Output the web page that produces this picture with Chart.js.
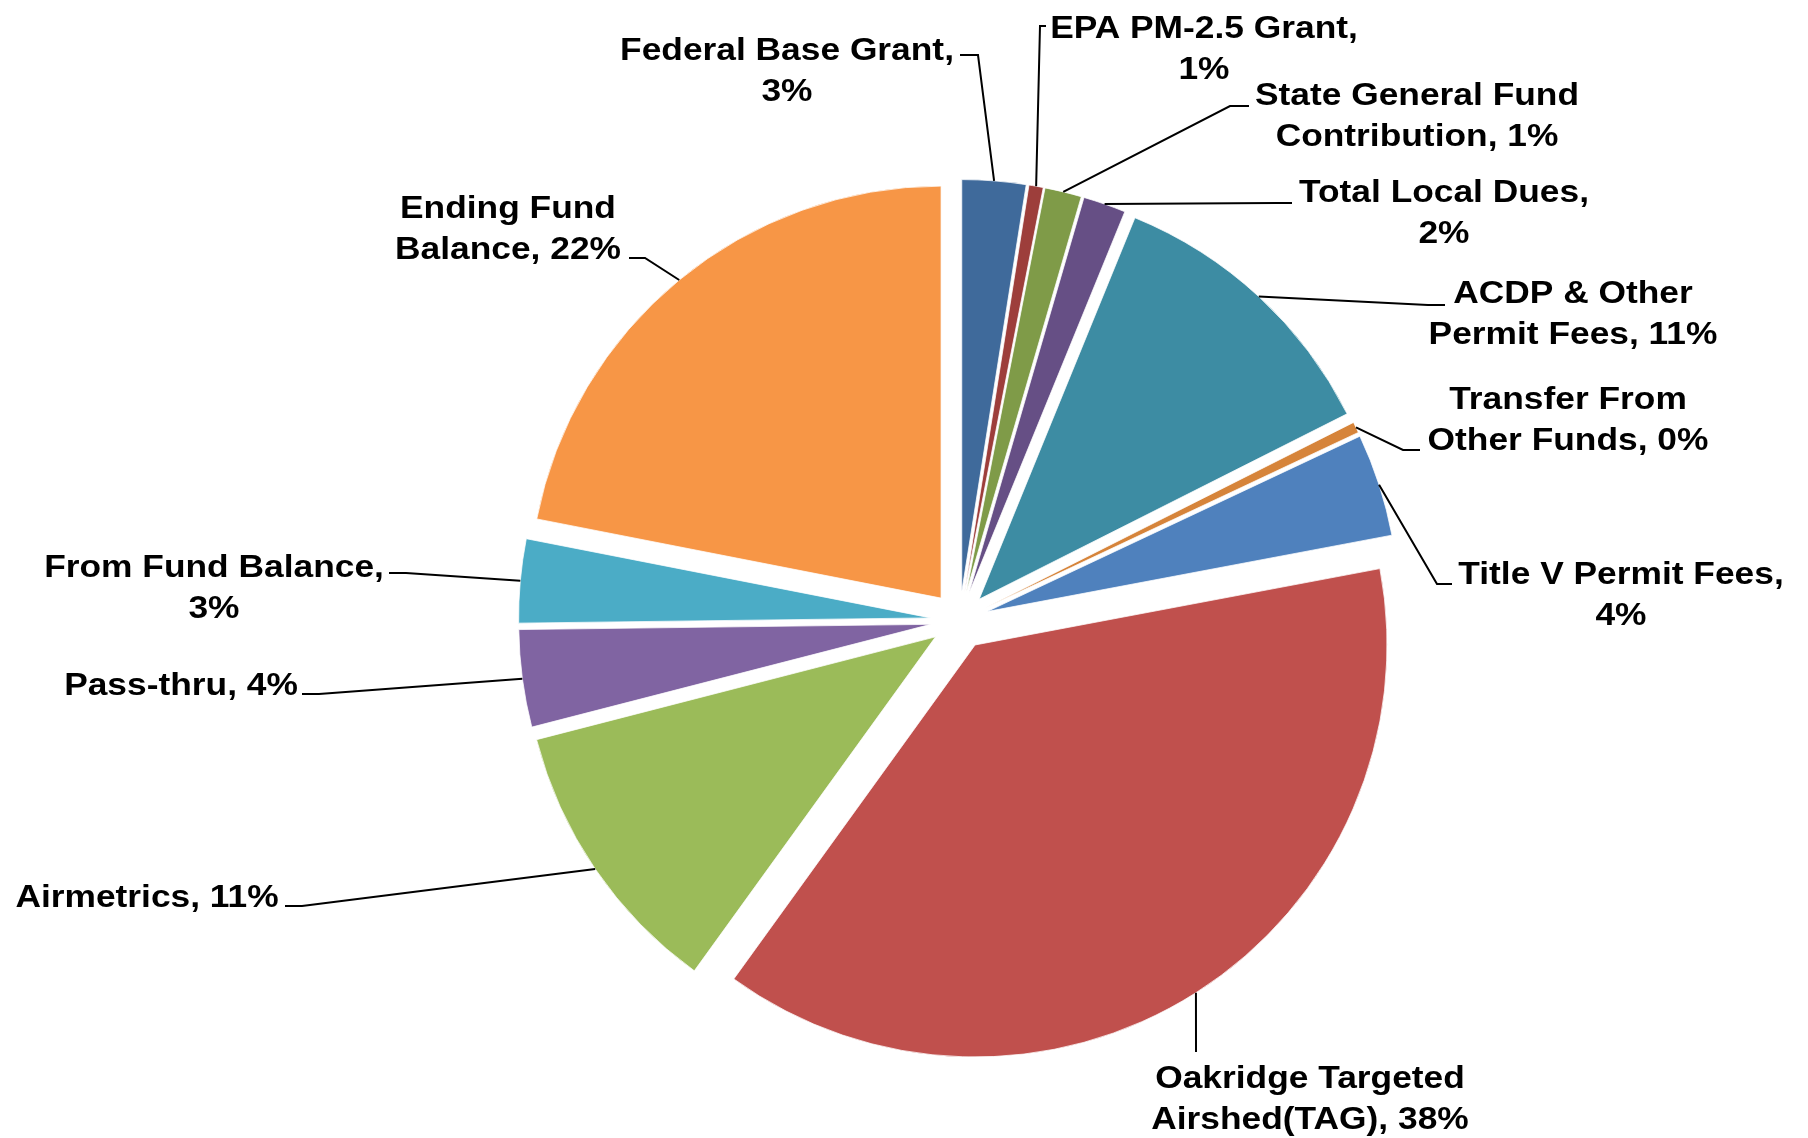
<!DOCTYPE html>
<html>
<head>
<meta charset="utf-8">
<script src="https://cdn.jsdelivr.net/npm/chart.js@4.4.0/dist/chart.umd.min.js"></script>
<style>
  html, body { margin: 0; padding: 0; background: #fff; }
  #budgetChart { display: block; }
</style>
</head>
<body>
<canvas id="budgetChart" width="1808" height="1138"></canvas>
<script>
// revenue sources, clockwise from 12 o'clock
const categories = [
    "Federal Base Grant", "EPA PM-2.5 Grant", "State General Fund Contribution",
    "Total Local Dues", "ACDP & Other Permit Fees", "Transfer From Other Funds",
    "Title V Permit Fees", "Oakridge Targeted Airshed(TAG)", "Airmetrics",
    "Pass-thru", "From Fund Balance", "Ending Fund Balance"
];
// share of total, percent
const shares = [2.5, 0.56, 1.44, 1.67, 11.4, 0.43, 4.03, 37.92, 11.03, 3.81, 3.28, 21.92];

const sliceColours = [
    '#3F6A9B', '#9D3E3B', '#7F9B48', '#664F85', '#3D8CA3', '#D6843A',
    '#4F81BD', '#C0504D', '#9BBB59', '#8064A2', '#4BACC6', '#F79646'
];

const EXPLODE = 29;       // px every slice is pulled out
const LINE_H = 41;
const labelFont = 'bold 31px "Liberation Sans", Arial, sans-serif';

// where each label sits: centre x, first baseline y, words on the first line (0 = one line),
// and the short stub of its leader line
const labelLayout = [
    { x: 787,  y: 60,   wrap: 3, stub: [960, 55, 978, 55] },
    { x: 1204, y: 38,   wrap: 3, stub: [1046, 26, 1040, 26] },
    { x: 1417, y: 105,  wrap: 3, stub: [1249, 106, 1230, 106] },
    { x: 1444, y: 202,  wrap: 3, stub: [1292, 203, 1276, 203] },
    { x: 1573, y: 303,  wrap: 3, stub: [1445, 305, 1428, 305] },
    { x: 1568, y: 409,  wrap: 2, stub: [1420, 450, 1403, 450] },
    { x: 1621, y: 584,  wrap: 4, stub: [1452, 584, 1437, 584] },
    { x: 1310, y: 1088, wrap: 2, stub: [1196, 1052, 1196, 1048] },
    { x: 147,  y: 907,  wrap: 0, stub: [285, 906, 302, 906] },
    { x: 181,  y: 695,  wrap: 0, stub: [302, 694, 319, 694] },
    { x: 214,  y: 577,  wrap: 3, stub: [389, 573, 406, 573] },
    { x: 508,  y: 218,  wrap: 2, stub: [629, 258, 645, 258] }
];

const total = shares.reduce((a, b) => a + b, 0);

const explodedPie = {
    id: 'explodedPie',
    beforeDatasetsDraw(chart) {
        const ctx = chart.ctx;
        chart.getDatasetMeta(0).data.forEach(arc => {
            const mid = (arc.startAngle + arc.endAngle) / 2;
            ctx.save();
            ctx.translate(Math.cos(mid) * EXPLODE, Math.sin(mid) * EXPLODE);
            arc.draw(ctx);
            ctx.restore();
        });
        return false;
    },
    afterDraw(chart) {
        const ctx = chart.ctx;
        const arcs = chart.getDatasetMeta(0).data;
        ctx.save();
        ctx.strokeStyle = '#000';
        ctx.lineWidth = 2;
        ctx.fillStyle = '#000';
        ctx.font = labelFont;
        ctx.textAlign = 'center';
        ctx.textBaseline = 'alphabetic';
        arcs.forEach((arc, i) => {
            const lay = labelLayout[i];
            const mid = (arc.startAngle + arc.endAngle) / 2;
            const r = arc.outerRadius + EXPLODE;
            const px = arc.x + Math.cos(mid) * r;
            const py = arc.y + Math.sin(mid) * r;

            ctx.beginPath();
            ctx.moveTo(lay.stub[0], lay.stub[1]);
            ctx.lineTo(lay.stub[2], lay.stub[3]);
            ctx.lineTo(px, py);
            ctx.stroke();

            const pct = Math.round(shares[i] / total * 100);
            const words = (categories[i] + ', ' + pct + '%').split(' ');
            const lines = lay.wrap
                ? [words.slice(0, lay.wrap).join(' '), words.slice(lay.wrap).join(' ')]
                : [words.join(' ')];
            lines.forEach((line, k) => {
                ctx.save();
                ctx.translate(lay.x, lay.y + k * LINE_H);
                ctx.scale(1.14, 1);
                ctx.fillText(line, 0, 0);
                ctx.restore();
            });
        });
        ctx.restore();
    }
};

let budgetChart = new Chart(document.getElementById("budgetChart").getContext("2d"), {
    type: "pie",
    data: {
        labels: categories,
        datasets: [{
            data: shares,
            backgroundColor: sliceColours,
            borderColor: '#ffffff',
            borderWidth: 0.75
        }]
    },
    options: {
        responsive: false,
        animation: false,
        radius: 412,
        layout: {
            padding: { left: 111, right: 0, top: 103, bottom: 0 }
        },
        plugins: {
            legend: { display: false },
            tooltip: { enabled: false }
        }
    },
    plugins: [explodedPie]
});
</script>
</body>
</html>
